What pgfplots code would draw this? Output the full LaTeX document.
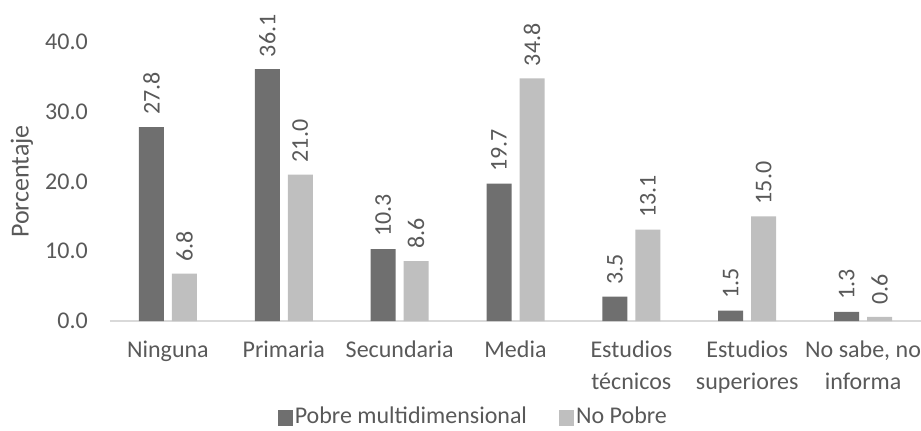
\documentclass[border=0pt]{standalone}
\usepackage{pgfplots}
\pgfplotsset{compat=1.18}
\usepackage{fontspec}
\setmainfont{Carlito}
\definecolor{pobre}{HTML}{6F6F6F}
\definecolor{nopobre}{HTML}{BFBFBF}
\definecolor{txt}{HTML}{595959}
\definecolor{axisline}{HTML}{D9D9D9}

\begin{document}
\fontsize{24}{32}\selectfont
\begin{tikzpicture}
\useasboundingbox (-110pt,-110pt) rectangle (811pt,321pt);
\begin{axis}[
  at={(0pt,0pt)}, anchor=south west,
  scale only axis,
  width=811pt, height=279pt,
  ybar, bar width=25pt, ybar=8pt,
  xmin=-0.5, xmax=6.5,
  ymin=0, ymax=40,
  ytick={0,10,20,30,40},
  xtick={0,1,2,3,4,5,6},
  xticklabels={Ninguna, Primaria, Secundaria, Media, Estudios\\técnicos, Estudios\\superiores, {No sabe, no\\informa}},
  xticklabel style={align=center, text=txt, font=\fontsize{24}{32}\selectfont, yshift=-12pt},
  yticklabel style={text=txt, xshift=-14pt, /pgf/number format/fixed, /pgf/number format/fixed zerofill, /pgf/number format/precision=1},
  /pgf/number format/assume math mode=true,
  axis x line*=bottom,
  axis y line*=left,
  x axis line style={draw=axisline, line width=1.3pt, -},
  y axis line style={draw=none},
  tick style={draw=none},
  major tick length=0pt,
  ylabel={Porcentaje},
  ylabel style={text=txt, font=\fontsize{26}{30}\selectfont, at={(axis description cs:-0.1085,0.5)}, anchor=center},
  nodes near coords,
  every node near coord/.append style={rotate=90, anchor=west, text=txt, inner xsep=12pt,
    /pgf/number format/fixed, /pgf/number format/fixed zerofill, /pgf/number format/precision=1},
  legend style={at={(axis description cs:0.448,-0.345)}, anchor=center, draw=none, fill=none,
    legend columns=2, text=txt, font=\fontsize{24}{28}\selectfont,
    inner sep=1pt,
    /tikz/every even column/.append style={column sep=30pt},
    /tikz/every odd column/.append style={column sep=0pt}},
  legend cell align=left,
  legend image code/.code={\fill[#1] (0pt,-9pt) rectangle (15pt,7pt);},
  clip=false,
]
\addplot[fill=pobre, draw=none] coordinates {(0,27.8) (1,36.1) (2,10.3) (3,19.7) (4,3.5) (5,1.5) (6,1.3)};
\addplot[fill=nopobre, draw=none] coordinates {(0,6.8) (1,21.0) (2,8.6) (3,34.8) (4,13.1) (5,15.0) (6,0.6)};
\legend{Pobre multidimensional, No Pobre}
\end{axis}
\end{tikzpicture}
\end{document}
